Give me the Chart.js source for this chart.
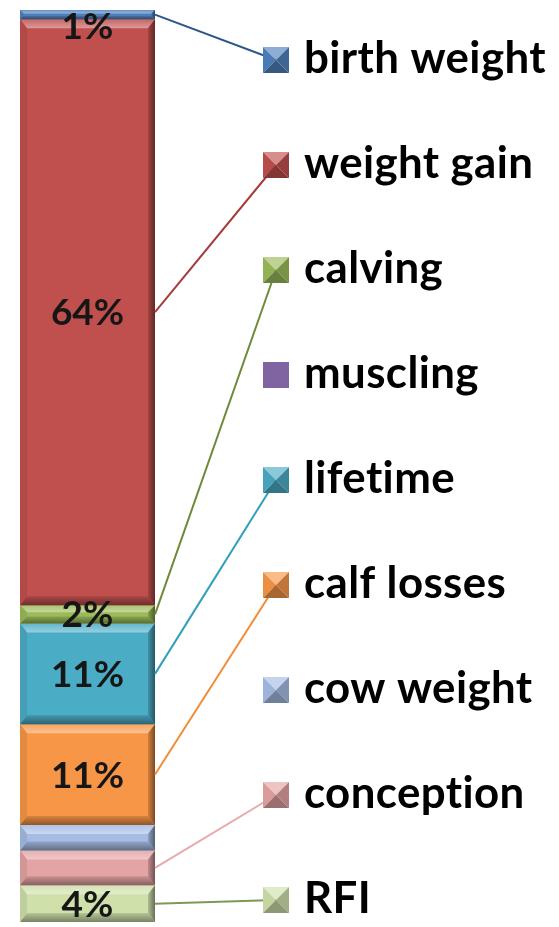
<!DOCTYPE html>
<html>
<head>
<meta charset="utf-8">
<script src="https://cdn.jsdelivr.net/npm/chart.js@4"></script>
<style>
  html, body { margin: 0; padding: 0; background: #ffffff; }
  #wrap { width: 559px; height: 927px; position: relative; }
</style>
</head>
<body>
<div id="wrap"><canvas id="c"></canvas></div>
<script>
// Share of total economic value by trait, listed top to bottom as stacked
const categories = ['birth weight', 'weight gain', 'calving', 'muscling', 'lifetime',
                    'calf losses', 'cow weight', 'conception', 'RFI'];
const shares = [1, 64, 2, 0, 11, 11, 2.8, 3.8, 4];
const valueLabels = ['1%', '64%', '2%', '', '11%', '11%', '', '', '4%'];

// Segment fills and leader-line colours (null = no leader line)
const fills = ['#4f81bd', '#c0504d', '#9bbb59', '#8064a2', '#4bacc6',
               '#f79646', '#a5bce4', '#e4a3a4', '#cfe0ab'];
const leaderColors = ['#2b5886', '#a53c3c', '#6d8b37', null, '#2f9fbb',
                      '#f28b34', null, '#e9a9ac', '#7d9955'];

function shade(hex, amt) {
  const n = parseInt(hex.slice(1), 16);
  let r = n >> 16, g = (n >> 8) & 255, b = n & 255;
  const t = amt < 0 ? 0 : 255, p = Math.abs(amt);
  r = Math.round(r + (t - r) * p);
  g = Math.round(g + (t - g) * p);
  b = Math.round(b + (t - b) * p);
  return `rgb(${r},${g},${b})`;
}

function poly(ctx, pts, fill) {
  ctx.beginPath();
  ctx.moveTo(pts[0][0], pts[0][1]);
  for (let i = 1; i < pts.length; i++) ctx.lineTo(pts[i][0], pts[i][1]);
  ctx.closePath();
  ctx.fillStyle = fill;
  ctx.fill();
}

// Beveled rectangle in the style of an office "3-D" bar
function bevelRect(ctx, L, T, R, B, color) {
  const h = B - T;
  if (h <= 0) return;
  const d = Math.min(9, h / 2.6);
  const s = Math.min(7, h / 2.6);
  ctx.fillStyle = color;
  ctx.fillRect(L, T, R - L, h);
  // top band
  let g = ctx.createLinearGradient(0, T, 0, T + d);
  g.addColorStop(0, shade(color, 0.12));
  g.addColorStop(1, shade(color, 0.42));
  poly(ctx, [[L, T], [R, T], [R - s, T + d], [L + s, T + d]], g);
  // bottom band
  g = ctx.createLinearGradient(0, B - d, 0, B);
  g.addColorStop(0, shade(color, -0.12));
  g.addColorStop(1, shade(color, -0.42));
  poly(ctx, [[L, B], [R, B], [R - s, B - d], [L + s, B - d]], g);
  // left band
  poly(ctx, [[L, T], [L + s, T + d], [L + s, B - d], [L, B]], shade(color, -0.08));
  // right band
  g = ctx.createLinearGradient(R - s, 0, R, 0);
  g.addColorStop(0, shade(color, -0.15));
  g.addColorStop(1, shade(color, -0.5));
  poly(ctx, [[R, T], [R - s, T + d], [R - s, B - d], [R, B]], g);
}

function pyramidMarker(ctx, cx, cy, half, color, flat) {
  const L = cx - half, R = cx + half, T = cy - half, B = cy + half;
  if (flat) {
    ctx.fillStyle = color;
    ctx.fillRect(L, T, 2 * half, 2 * half);
    return;
  }
  poly(ctx, [[L, T], [R, T], [cx, cy]], shade(color, 0.35));
  poly(ctx, [[L, T], [cx, cy], [L, B]], shade(color, -0.05));
  poly(ctx, [[R, T], [cx, cy], [R, B]], shade(color, -0.22));
  poly(ctx, [[L, B], [cx, cy], [R, B]], shade(color, -0.32));
}

// Bottom segment first, so the stack reads top-down like the key
const stackOrder = categories.map((_, i) => i).reverse();
const total = shares.reduce((a, b) => a + b, 0);

const legendLayout = { markerX: 276, firstY: 60, step: 105, half: 13, textX: 304 };

const decorPlugin = {
  id: 'decor',
  afterDatasetsDraw(chart) {
    const ctx = chart.ctx;
    const area = chart.chartArea;
    const rects = {};
    chart.data.datasets.forEach((ds, di) => {
      const el = chart.getDatasetMeta(di).data[0];
      const L = el.x - el.width / 2, R = el.x + el.width / 2;
      const T = Math.min(el.y, el.base), B = Math.max(el.y, el.base);
      rects[ds.catIndex] = { L, R, T, B, cx: el.x };
      bevelRect(ctx, L, T, R, B, fills[ds.catIndex]);
    });

    // value labels
    ctx.save();
    ctx.font = 'bold 37px Lato';
    ctx.fillStyle = '#161616';
    ctx.textAlign = 'center';
    ctx.textBaseline = 'middle';
    categories.forEach((c, i) => {
      if (!valueLabels[i]) return;
      const r = rects[i];
      const y = Math.max((r.T + r.B) / 2, area.top + 16);
      ctx.fillText(valueLabels[i], r.cx, y + 1);
    });
    ctx.restore();

    // leader lines
    ctx.save();
    ctx.lineWidth = 2;
    categories.forEach((c, i) => {
      if (!leaderColors[i]) return;
      const r = rects[i];
      const my = legendLayout.firstY + i * legendLayout.step;
      ctx.strokeStyle = leaderColors[i];
      ctx.beginPath();
      ctx.moveTo(r.R, (r.T + r.B) / 2);
      ctx.lineTo(legendLayout.markerX, my);
      ctx.stroke();
    });
    ctx.restore();

    // key: markers and names
    ctx.save();
    ctx.letterSpacing = '0.4px';
    let size = 44;
    ctx.font = `bold ${size}px Lato`;
    size = size * 242 / ctx.measureText('birth weight').width;
    ctx.font = `bold ${size}px Lato`;
    ctx.textAlign = 'left';
    ctx.textBaseline = 'alphabetic';
    categories.forEach((c, i) => {
      const cy = legendLayout.firstY + i * legendLayout.step;
      pyramidMarker(ctx, legendLayout.markerX, cy, legendLayout.half, fills[i], shares[i] === 0);
      ctx.fillStyle = '#000000';
      ctx.fillText(c, legendLayout.textX, cy + legendLayout.half);
    });
    ctx.restore();
  }
};

new Chart(document.getElementById('c'), {
  type: 'bar',
  data: {
    labels: [''],
    datasets: stackOrder.map(i => ({
      label: categories[i],
      catIndex: i,
      data: [shares[i]],
      backgroundColor: fills[i],
      borderWidth: 0,
      barPercentage: 1,
      categoryPercentage: 1
    }))
  },
  options: {
    responsive: true,
    maintainAspectRatio: false,
    animation: false,
    layout: { padding: { left: 20, right: 404, top: 10, bottom: 5 } },
    plugins: { legend: { display: false }, tooltip: { enabled: false } },
    scales: {
      x: { stacked: true, display: false },
      y: { stacked: true, display: false, min: 0, max: total }
    }
  },
  plugins: [decorPlugin]
});
</script>
</body>
</html>
